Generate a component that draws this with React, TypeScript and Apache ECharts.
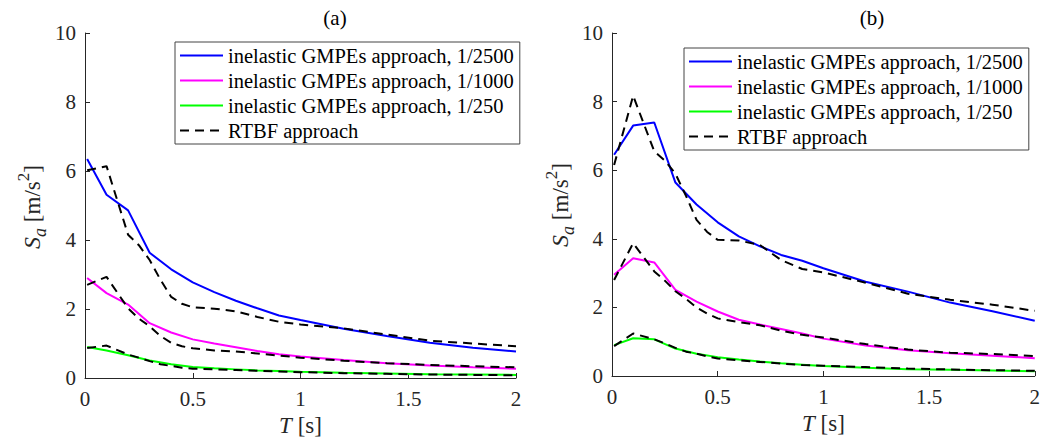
import React, { useEffect, useRef } from "react";
import * as echarts from "echarts";

const periods = [0.01, 0.1, 0.2, 0.3, 0.4, 0.5, 0.6, 0.7, 0.8, 0.9, 1.0, 1.2, 1.4, 1.6, 1.8, 2.0];
const rtbfPeriods = [0.01, 0.1, 0.2, 0.25, 0.3, 0.35, 0.4, 0.45, 0.5, 0.6, 0.7, 0.8, 0.9, 1.0, 1.2, 1.4, 1.6, 1.8, 2.0];

// Panel (a)
const aGmpe2500 = [6.35, 5.31, 4.86, 3.63, 3.15, 2.77, 2.49, 2.24, 2.02, 1.81, 1.68, 1.43, 1.22, 1.02, 0.88, 0.77];
const aGmpe1000 = [2.9, 2.46, 2.13, 1.59, 1.32, 1.12, 1.0, 0.89, 0.78, 0.69, 0.62, 0.52, 0.43, 0.36, 0.31, 0.27];
const aGmpe250 = [0.9, 0.8, 0.66, 0.51, 0.4, 0.32, 0.28, 0.25, 0.22, 0.2, 0.18, 0.15, 0.13, 0.11, 0.1, 0.09];
const aRtbf2500 = [6.02, 6.14, 4.15, 3.85, 3.42, 2.85, 2.35, 2.15, 2.05, 2.01, 1.93, 1.77, 1.63, 1.55, 1.44, 1.26, 1.08, 1.0, 0.92];
const aRtbf1000 = [2.7, 2.93, 2.02, 1.72, 1.5, 1.22, 1.02, 0.92, 0.86, 0.8, 0.77, 0.71, 0.65, 0.59, 0.5, 0.43, 0.38, 0.34, 0.31];
const aRtbf250 = [0.87, 0.94, 0.68, 0.59, 0.49, 0.4, 0.35, 0.3, 0.27, 0.25, 0.23, 0.21, 0.19, 0.17, 0.14, 0.12, 0.1, 0.09, 0.08];

// Panel (b)
const bGmpe2500 = [6.45, 7.3, 7.39, 5.64, 5.0, 4.48, 4.07, 3.78, 3.53, 3.36, 3.14, 2.75, 2.46, 2.14, 1.89, 1.61];
const bGmpe1000 = [2.95, 3.43, 3.31, 2.51, 2.17, 1.88, 1.64, 1.5, 1.37, 1.24, 1.09, 0.89, 0.75, 0.66, 0.59, 0.52];
const bGmpe250 = [0.9, 1.1, 1.07, 0.8, 0.65, 0.55, 0.48, 0.42, 0.37, 0.33, 0.29, 0.24, 0.2, 0.18, 0.16, 0.14];
const bRtbf2500 = [6.15, 8.17, 6.55, 6.28, 5.9, 5.25, 4.55, 4.2, 3.97, 3.95, 3.82, 3.38, 3.12, 3.02, 2.72, 2.4, 2.22, 2.08, 1.9];
const bRtbf1000 = [2.8, 3.87, 3.05, 2.78, 2.47, 2.25, 2.0, 1.82, 1.68, 1.57, 1.48, 1.32, 1.2, 1.12, 0.93, 0.77, 0.68, 0.64, 0.58];
const bRtbf250 = [0.87, 1.24, 1.07, 0.95, 0.82, 0.71, 0.65, 0.57, 0.51, 0.46, 0.41, 0.36, 0.32, 0.3, 0.26, 0.22, 0.19, 0.17, 0.15];

const legendNames = [
  "inelastic GMPEs approach, 1/2500",
  "inelastic GMPEs approach, 1/1000",
  "inelastic GMPEs approach, 1/250",
  "RTBF approach",
];
const panelTitles = ["(a)", "(b)"];
const xTicks = { min: 0, max: 2, interval: 0.5 };
const yTicks = { min: 0, max: 10, interval: 2 };

const FONT = "'Liberation Serif', 'Times New Roman', serif";
const AX = "#262626";

function pairs(xs: number[], ys: number[]) {
  return xs.map((x, i) => [x, ys[i]]);
}

export default function App() {
  const ref = useRef<HTMLDivElement>(null);
  useEffect(() => {
    if (!ref.current) return;
    const chart = echarts.init(ref.current, null, { renderer: "svg" });

    const axisCommon = {
      axisLine: { show: true, lineStyle: { color: AX, width: 1 } },
      axisTick: { show: true, inside: true, length: 5, lineStyle: { color: AX } },
      splitLine: { show: false },
    };
    const mkX = (gi: number) => ({
      type: "value",
      gridIndex: gi,
      ...xTicks,
      ...axisCommon,
      axisLabel: { color: AX, fontFamily: FONT, fontSize: 21, margin: 10 },
      name: "{i|T} [s]",
      nameLocation: "middle",
      nameGap: 29,
      nameTextStyle: {
        color: AX,
        fontFamily: FONT,
        fontSize: 23,
        rich: { i: { fontStyle: "italic", fontFamily: FONT, fontSize: 23, color: AX } },
      },
    });
    const mkY = (gi: number) => ({
      type: "value",
      gridIndex: gi,
      ...yTicks,
      ...axisCommon,
      axisLabel: { color: AX, fontFamily: FONT, fontSize: 21, margin: 9 },
    });

    const yNameRich = {
      i: { fontStyle: "italic", fontFamily: FONT, fontSize: 24, fill: AX, lineHeight: 34 },
      n: { fontFamily: FONT, fontSize: 23, fill: AX, lineHeight: 34 },
      sub: { fontStyle: "italic", fontFamily: FONT, fontSize: 18, fill: AX, verticalAlign: "bottom", lineHeight: 18 },
      sup: { fontFamily: FONT, fontSize: 17, fill: AX, verticalAlign: "top", lineHeight: 17 },
    };
    const yNameText = "{i|S}{sub|a}{n| [m/s}{sup|2}{n|]}";
    const mkYName = (x: number, y: number) => ({
      type: "text",
      x,
      y,
      rotation: Math.PI / 2,
      style: {
        text: yNameText,
        rich: yNameRich,
        fontFamily: FONT,
        fontSize: 23,
        fill: AX,
        align: "center",
        verticalAlign: "middle",
      },
    });

    const colors = ["#0000ff", "#ff00ff", "#00ff00"];
    const mkSeries = (gi: number, gmpe: number[][], rtbf: number[][]) => {
      const out: any[] = [];
      gmpe.forEach((ys, k) => {
        out.push({
          type: "line",
          name: legendNames[k],
          xAxisIndex: gi,
          yAxisIndex: gi,
          data: pairs(periods, ys),
          symbol: "none",
          lineStyle: { color: colors[k], width: 2 },
          itemStyle: { color: colors[k] },
          z: 2,
        });
      });
      rtbf.forEach((ys) => {
        out.push({
          type: "line",
          name: legendNames[3],
          xAxisIndex: gi,
          yAxisIndex: gi,
          data: pairs(rtbfPeriods, ys),
          symbol: "none",
          lineStyle: { color: "#000", width: 2, type: [9, 6] },
          itemStyle: { color: "#000" },
          z: 3,
        });
      });
      return out;
    };

    const mkLegend = (left: number, top: number) => ({
      orient: "vertical",
      left,
      top,
      data: legendNames,
      itemWidth: 43,
      itemHeight: 14,
      itemGap: 0,
      padding: [1, 6, 1, 4],
      borderColor: "#444",
      borderWidth: 1,
      backgroundColor: "#fff",
      selectedMode: false,
      itemStyle: { opacity: 0, color: "rgba(0,0,0,0)", borderWidth: 0 },
      textStyle: { fontFamily: FONT, fontSize: 20.5, color: "#000", lineHeight: 25 },
    });

    chart.setOption({
      animation: false,
      backgroundColor: "#fff",
      grid: [
        { left: 85, top: 33, width: 431, height: 345 },
        { left: 612, top: 33, width: 430, height: 343 },
      ],
      xAxis: [mkX(0), mkX(1)],
      yAxis: [mkY(0), mkY(1)],
      legend: [mkLegend(175, 42), mkLegend(684, 48)],
      series: [
        ...mkSeries(0, [aGmpe2500, aGmpe1000, aGmpe250], [aRtbf2500, aRtbf1000, aRtbf250]),
        ...mkSeries(1, [bGmpe2500, bGmpe1000, bGmpe250], [bRtbf2500, bRtbf1000, bRtbf250]),
      ],
      graphic: [
        {
          type: "text",
          x: 335,
          y: 18,
          style: { text: panelTitles[0], fontFamily: FONT, fontSize: 21, fill: "#000", align: "center", verticalAlign: "middle" },
        },
        {
          type: "text",
          x: 872,
          y: 18,
          style: { text: panelTitles[1], fontFamily: FONT, fontSize: 21, fill: "#000", align: "center", verticalAlign: "middle" },
        },
        mkYName(32, 207),
        mkYName(560, 205),
      ],
    });
    return () => chart.dispose();
  }, []);
  return (
    <div
      ref={ref}
      style={{ position: "absolute", left: 0, top: 0, width: 1043, height: 443, background: "#fff" }}
    />
  );
}
